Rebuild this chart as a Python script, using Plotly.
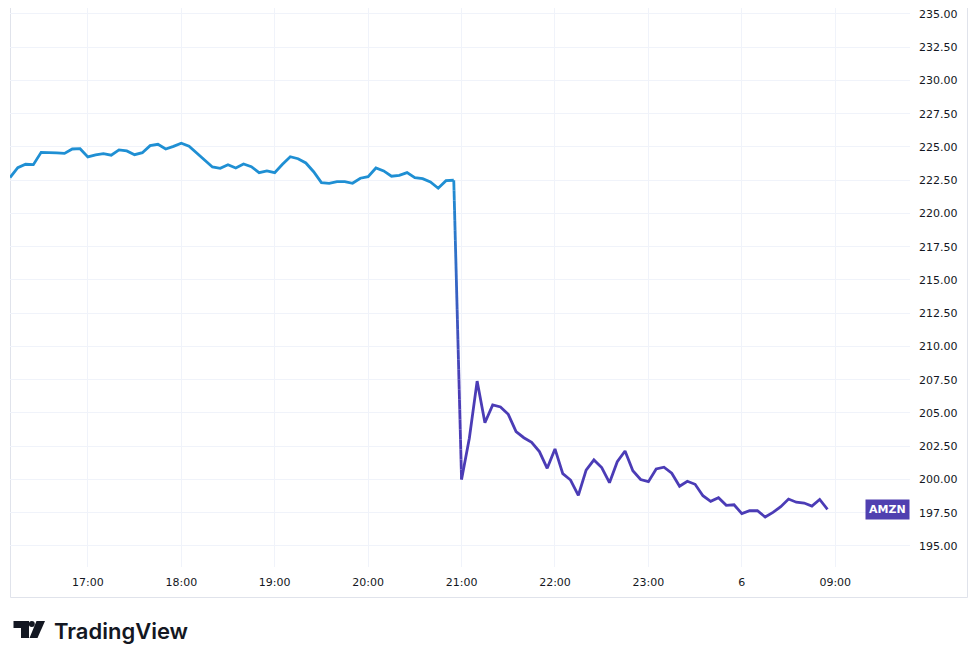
import numpy as np
import plotly.graph_objects as go

# ---- data (5-minute closes) ----
prices_before = [222.7, 223.44, 223.7, 223.67, 224.6, 224.6, 224.55, 224.52, 224.85, 224.87,
                 224.25, 224.4, 224.5, 224.38, 224.78, 224.7, 224.42, 224.57, 225.1, 225.2,
                 224.85, 225.05, 225.28, 225.05, 224.55, 224.0, 223.5, 223.4, 223.67, 223.42,
                 223.72, 223.52, 223.07, 223.2, 223.07, 223.7, 224.27, 224.12, 223.8, 223.14,
                 222.32, 222.27, 222.4, 222.4, 222.27, 222.65, 222.77, 223.42, 223.2, 222.8,
                 222.87, 223.07, 222.7, 222.62, 222.37, 221.9, 222.47, 222.5]
prices_after = [200.0, 203.1, 207.4, 204.27, 205.6, 205.45, 204.9, 203.6, 203.14, 202.8,
                202.1, 200.84, 202.3, 200.44, 199.96, 198.8, 200.7, 201.47, 200.9, 199.76,
                201.34, 202.14, 200.66, 200.0, 199.84, 200.79, 200.92, 200.47, 199.49, 199.87,
                199.64, 198.78, 198.36, 198.63, 198.06, 198.1, 197.43, 197.65, 197.65, 197.18,
                197.53, 197.95, 198.53, 198.29, 198.23, 198.0, 198.5, 197.76]
tick_labels = ["17:00", "18:00", "19:00", "20:00", "21:00", "22:00", "23:00", "6", "09:00"]
tick_bar_index = [10, 22, 34, 46, 58, 70, 82, 94, 106]
y_ticks = [195.0, 197.5, 200.0, 202.5, 205.0, 207.5, 210.0, 212.5, 215.0, 217.5,
           220.0, 222.5, 225.0, 227.5, 230.0, 232.5, 235.0]
symbol = "AMZN"

prices = prices_before + prices_after
bars = list(range(len(prices)))
n_before = len(prices_before)

BLUE = (31, 143, 211)
PURPLE = (75, 60, 182)
HI, LO = 222.5, 207.0


def grad_color(p):
    t = min(max((p - LO) / (HI - LO), 0.0), 1.0)
    c = [round(PURPLE[k] + (BLUE[k] - PURPLE[k]) * t) for k in range(3)]
    return f"rgb({c[0]},{c[1]},{c[2]})"


fig = go.Figure()
LW = 2.8

# upper (blue) part
fig.add_trace(go.Scatter(x=bars[:n_before], y=prices_before, mode="lines",
                         line=dict(color=grad_color(HI), width=LW), hoverinfo="skip",
                         showlegend=False))
# the drop segment, coloured with a vertical gradient
x0, x1 = bars[n_before - 1], bars[n_before]
p0, p1 = prices_before[-1], prices_after[0]
N = 30
fr = np.linspace(0, 1, N + 1)
for k in range(N):
    xa, xb = x0 + (x1 - x0) * fr[k], x0 + (x1 - x0) * fr[k + 1]
    ya, yb = p0 + (p1 - p0) * fr[k], p0 + (p1 - p0) * fr[k + 1]
    fig.add_trace(go.Scatter(x=[xa, xb], y=[ya, yb], mode="lines",
                             line=dict(color=grad_color((ya + yb) / 2), width=LW),
                             hoverinfo="skip", showlegend=False))
# lower (purple) part
fig.add_trace(go.Scatter(x=bars[n_before:], y=prices_after, mode="lines",
                         line=dict(color=grad_color(LO), width=LW), hoverinfo="skip",
                         showlegend=False))

# symbol label at last price
fig.add_annotation(x=1, xref="paper", xanchor="right", y=prices[-1], yref="y",
                   text=f"<b>{symbol}</b>", showarrow=False,
                   font=dict(family="DejaVu Sans", size=11, color="white"),
                   bgcolor="rgb(80,64,176)", borderpad=3)

# ---- layout geometry ----
# the page places the figure 8px in from the top-left corner (body margin)
OFF = 8
W, H = 980 - OFF, 653 - OFF
L, R, T, B = 2, 70, 0, 86
PW, PH = W - L - R, H - T - B


def px(xp):  # page pixel x -> paper x
    return (xp - OFF - L) / PW


def py(yp):  # page pixel y -> paper y
    return (H - B - (yp - OFF)) / PH


GRID = "#f0f3fa"
fig.update_layout(
    width=W, height=H,
    margin=dict(l=L, r=R, t=T, b=B, pad=0),
    paper_bgcolor="white", plot_bgcolor="white",
    xaxis=dict(range=[0, 115.6], tickvals=tick_bar_index, ticktext=tick_labels,
               showgrid=True, gridcolor=GRID, gridwidth=1, zeroline=False,
               showline=False, ticks="", ticklabelstandoff=7,
               tickfont=dict(family="DejaVu Sans", size=11, color="#131722")),
    yaxis=dict(range=[193.42, 235.45], side="right", tickvals=y_ticks,
               ticktext=[f"{v:.2f}" for v in y_ticks],
               showgrid=True, gridcolor=GRID, gridwidth=1, zeroline=False,
               showline=False, ticks="", ticklabelstandoff=8,
               ticklabeloverflow="allow",
               tickfont=dict(family="DejaVu Sans", size=11, color="#131722")),
)

# pane border
fig.add_shape(type="rect", xref="paper", yref="paper",
              x0=px(10.5), x1=px(967.5), y0=py(597.5), y1=py(-2),
              line=dict(color="#e0e3eb", width=1), fillcolor="rgba(0,0,0,0)", layer="below")

# TradingView logo
LOGO = "#131722"
fig.add_shape(type="path", xref="paper", yref="paper",
              path=(f"M {px(13.5)} {py(621)} L {px(29)} {py(621)} L {px(29)} {py(638)} "
                    f"L {px(21)} {py(638)} L {px(21)} {py(628)} L {px(13.5)} {py(628)} Z"),
              fillcolor=LOGO, line=dict(width=0))
fig.add_shape(type="circle", xref="paper", yref="paper",
              x0=px(28.8), x1=px(34.8), y0=py(627), y1=py(621),
              fillcolor=LOGO, line=dict(width=0))
fig.add_shape(type="path", xref="paper", yref="paper",
              path=(f"M {px(36.5)} {py(621)} L {px(45)} {py(621)} L {px(37.5)} {py(638)} "
                    f"L {px(29.5)} {py(638)} Z"),
              fillcolor=LOGO, line=dict(width=0))
fig.add_annotation(x=px(52), y=py(631), xref="paper", yref="paper", xanchor="left",
                   yanchor="middle", text="TradingView", showarrow=False,
                   font=dict(family="Inter", size=22, color=LOGO, weight=600))

fig.write_html("out.html")
